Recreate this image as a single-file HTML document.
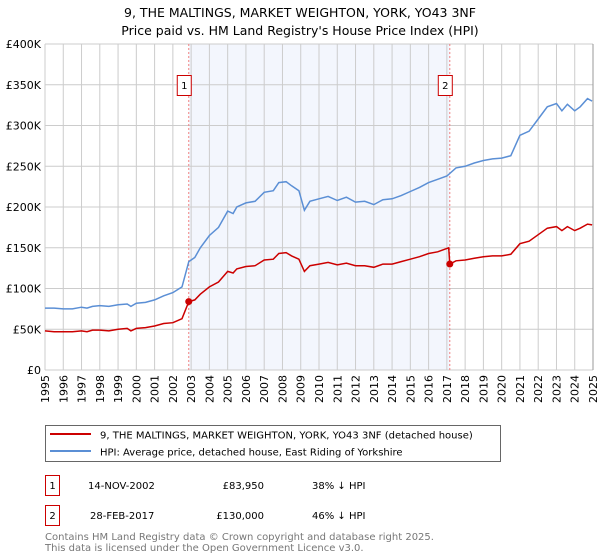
<!DOCTYPE html>
<html><head><meta charset="utf-8"><style>
body{margin:0;background:#fff;}
svg{display:block;font-family:"DejaVu Sans","Liberation Sans",sans-serif;}
</style></head><body>
<svg id="chart" width="600" height="560" viewBox="0 0 600 560" xmlns="http://www.w3.org/2000/svg">
<text x="300" y="17" text-anchor="middle" font-size="12.5">9, THE MALTINGS, MARKET WEIGHTON, YORK, YO43 3NF</text>
<text x="300" y="35" text-anchor="middle" font-size="12.5">Price paid vs. HM Land Registry's House Price Index (HPI)</text>
<g id="plot"></g>
<g>
<rect x="45.5" y="425.5" width="455" height="36" fill="#fff" stroke="#666"/>
<line x1="50" y1="434" x2="91" y2="434" stroke="#cc0000" stroke-width="2"/>
<text x="100" y="438.5" font-size="10">9, THE MALTINGS, MARKET WEIGHTON, YORK, YO43 3NF (detached house)</text>
<line x1="50" y1="451" x2="91" y2="451" stroke="#5b8fd5" stroke-width="2"/>
<text x="100" y="455.5" font-size="10">HPI: Average price, detached house, East Riding of Yorkshire</text>
</g>
<g font-size="10">
<rect x="45.5" y="475.5" width="14" height="20" fill="#fff" stroke="#cc0000"/>
<text x="52.5" y="489" text-anchor="middle">1</text>
<text x="88" y="489">14-NOV-2002</text>
<text x="264" y="489" text-anchor="end">£83,950</text>
<text x="312" y="489">38% ↓ HPI</text>
<rect x="45.5" y="505.5" width="14" height="20" fill="#fff" stroke="#cc0000"/>
<text x="52.5" y="519" text-anchor="middle">2</text>
<text x="90" y="519">28-FEB-2017</text>
<text x="264" y="519" text-anchor="end">£130,000</text>
<text x="312" y="519">46% ↓ HPI</text>
</g>
<text x="45" y="540" font-size="10" fill="#777">Contains HM Land Registry data © Crown copyright and database right 2025.</text>
<text x="45" y="551" font-size="10" fill="#777">This data is licensed under the Open Government Licence v3.0.</text>
</svg>
<script>
const hpiYears=[1995,1995.5,1996,1996.5,1997,1997.3,1997.6,1998,1998.5,1999,1999.5,1999.7,2000,2000.5,2001,2001.5,2002,2002.5,2002.87,2003.2,2003.5,2004,2004.5,2005,2005.3,2005.5,2006,2006.5,2007,2007.5,2007.8,2008.2,2008.5,2008.9,2009.2,2009.5,2010,2010.5,2011,2011.5,2012,2012.5,2013,2013.5,2014,2014.5,2015,2015.5,2016,2016.5,2017,2017.5,2018,2018.5,2019,2019.5,2020,2020.5,2021,2021.5,2022,2022.5,2023,2023.3,2023.6,2024,2024.3,2024.7,2024.95];
const hpiValues=[76,76,75,75,77,76,78,79,78,80,81,78,82,83,86,91,95,102,133,138,150,165,175,195,192,200,205,207,218,220,230,231,226,220,196,207,210,213,208,212,206,207,203,209,210,214,219,224,230,234,238,248,250,254,257,259,260,263,288,293,308,323,327,318,326,318,323,333,330];
const priceYears=[1995,1995.5,1996,1996.5,1997,1997.3,1997.6,1998,1998.5,1999,1999.5,1999.7,2000,2000.5,2001,2001.5,2002,2002.5,2002.87,2003.2,2003.5,2004,2004.5,2005,2005.3,2005.5,2006,2006.5,2007,2007.5,2007.8,2008.2,2008.5,2008.9,2009.2,2009.5,2010,2010.5,2011,2011.5,2012,2012.5,2013,2013.5,2014,2014.5,2015,2015.5,2016,2016.5,2017.1,2017.16,2017.5,2018,2018.5,2019,2019.5,2020,2020.5,2021,2021.5,2022,2022.5,2023,2023.3,2023.6,2024,2024.3,2024.7,2024.95];
const priceValues=[48,47,47,47,48,47,49,49,48,50,51,48,51,52,54,57,58,63,83.95,86,93,102,108,121,119,124,127,128,135,136,143,144,140,136,121,128,130,132,129,131,128,128,126,130,130,133,136,139,143,145,150,130,134,135,137,139,140,140,142,155,158,166,174,176,171,176,171,174,179,178];
const sales=[{n:"1",year:2002.87,value:83.95},{n:"2",year:2017.16,value:130}];
const yTicks=[0,50,100,150,200,250,300,350,400];
const yTickLabels=["£0","£50K","£100K","£150K","£200K","£250K","£300K","£350K","£400K"];
const xTicks=[1995,1996,1997,1998,1999,2000,2001,2002,2003,2004,2005,2006,2007,2008,2009,2010,2011,2012,2013,2014,2015,2016,2017,2018,2019,2020,2021,2022,2023,2024,2025];

const X0=45,X1=593,Y0=370,Y1=44;
const x=v=>X0+(v-1995)/30*(X1-X0);
const y=v=>Y0-v/400*(Y0-Y1);
const NS="http://www.w3.org/2000/svg";
const g=document.getElementById('plot');
function mk(t,a,p){const e=document.createElementNS(NS,t);for(const k in a)e.setAttribute(k,a[k]);(p||g).appendChild(e);return e;}
const shade=mk('rect',{x:x(sales[0].year),y:Y1,width:x(sales[1].year)-x(sales[0].year),height:Y0-Y1,fill:'#f3f6fd'});


xTicks.forEach(t=>{const l=mk('line',{x1:x(t),x2:x(t),y1:Y1,y2:Y0,stroke:'#cccccc'});


const tx=mk('text',{x:0,y:0,'font-size':11,'text-anchor':'end',transform:`translate(${x(t)+4},${Y0+5}) rotate(-90)`});


tx.textContent=t;});
yTicks.forEach((t,i)=>{const l=mk('line',{x1:X0,x2:X1,y1:y(t),y2:y(t),stroke:'#cccccc'});


const tx=mk('text',{x:X0-4,y:y(t)+4,'font-size':11,'text-anchor':'end'});


tx.textContent=yTickLabels[i];});
const rb=mk('line',{x1:X1,x2:X1,y1:Y1,y2:Y0,stroke:'#999'});


sales.forEach(s=>{const l=mk('line',{x1:x(s.year),x2:x(s.year),y1:Y1,y2:Y0,stroke:'#f08080','stroke-dasharray':'2,2'});

});
function path(xs,vs,col,name){const d=xs.map((v,i)=>(i?'L':'M')+x(v).toFixed(1)+','+y(vs[i]).toFixed(1)).join('');
const p=mk('path',{d:d,fill:'none',stroke:col,'stroke-width':1.5});

}
path(hpiYears,hpiValues,'#5b8fd5','hpi-line');
path(priceYears,priceValues,'#cc0000','price-paid-line');
sales.forEach(s=>{const c=mk('circle',{cx:x(s.year),cy:y(s.value),r:3.5,fill:'#cc0000'});


const b=mk('rect',{x:x(s.year)-11.5,y:75.5,width:14,height:20,fill:'#fff',stroke:'#cc0000'});


const t=mk('text',{x:x(s.year)-4.5,y:89,'font-size':10,'text-anchor':'middle'});


t.textContent=s.n;});
</script>
</body></html>
